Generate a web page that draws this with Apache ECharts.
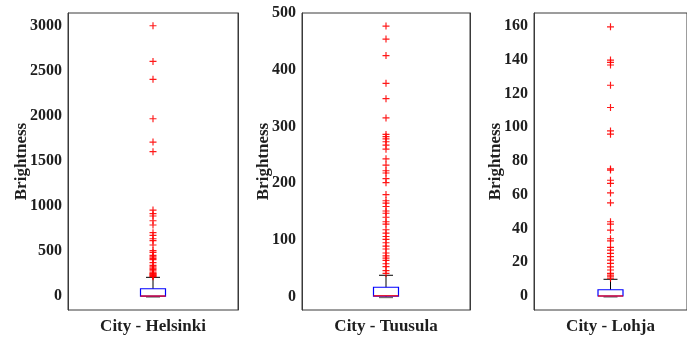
<!DOCTYPE html>
<html>
<head>
<meta charset="utf-8">
<script src="https://cdn.jsdelivr.net/npm/echarts@6/dist/echarts.min.js"></script>
<style>
  html, body { margin: 0; padding: 0; background: #fff; }
  #chart { width: 687px; height: 340px; }
</style>
</head>
<body>
<div id="chart"></div>
<script>
// city labels under each panel
const cities = ['City - Helsinki', 'City - Tuusula', 'City - Lohja'];

// box stats: [lower whisker, q1, median, q3, upper whisker]
const helsinkiBox = [0, 0, 0, 81, 208];
const tuusulaBox = [0, 1, 1.5, 16.6, 37.7];
const lohjaBox = [0, 0, 0, 3.7, 9.9];

// outliers
const helsinkiOut = [3003, 2607, 2408, 1970, 1711, 1604, 955, 915, 889, 837, 789, 704, 674, 637, 615, 567,
  504, 485, 452, 435, 419, 404, 372, 341, 326, 310, 296, 280, 259, 252, 244, 237, 230, 222, 215];
const tuusulaOut = [477, 454, 425, 376, 349, 315, 286, 282, 278, 273, 267, 260, 243, 232, 222, 218, 208, 201,
  180, 169, 165, 159, 151, 147, 140, 132, 128, 118, 112, 106, 101, 95, 89, 84, 77, 72, 68, 64, 58, 53, 46, 41];
const lohjaOut = [159.5, 139.8, 138.4, 136.9, 124.9, 111.7, 97.8, 95.9, 75.3, 74.6, 68.6, 66.7, 61.1, 55.2,
  44, 42.6, 39, 33.9, 32.7, 28.8, 27.2, 25.3, 23.3, 21.3, 19.3, 17.3, 15.4, 13.4, 12.4, 11.4, 10.5];

// y tick labels
const helsinkiTicks = [0, 500, 1000, 1500, 2000, 2500, 3000];
const tuusulaTicks = [0, 100, 200, 300, 400, 500];
const lohjaTicks = [0, 20, 40, 60, 80, 100, 120, 140, 160];

const boxes = [helsinkiBox, tuusulaBox, lohjaBox];
const outliers = [helsinkiOut, tuusulaOut, lohjaOut];
const ticks = [helsinkiTicks, tuusulaTicks, lohjaTicks];
const ranges = [[-155, 3145], [-23.5, 500], [-8.3, 167.7]];
const grids = [
  { left: 68, right: 449, top: 13, bottom: 30 },
  { left: 302, right: 217, top: 13, bottom: 30 },
  { left: 534, right: -9, top: 13, bottom: 30 }
];
const nameGaps = [38, 30, 30];

const font = 'Liberation Serif';
const ink = '#1e1e1e';
const lineCol = '#3a3a3a';
const plus = 'path://M2.5,0H3.5V6H2.5Z M0,2.5H6V3.5H0Z';

const chart = echarts.init(document.getElementById('chart'));

const xAxis = [], yAxis = [], series = [];
cities.forEach((city, i) => {
  xAxis.push({
    type: 'category', gridIndex: i, data: [city],
    name: city, nameLocation: 'middle', nameGap: 8, nameMoveOverlap: false,
    nameTextStyle: { fontFamily: font, fontWeight: 'bold', fontSize: 17, color: ink },
    axisLine: { show: false },
    axisTick: { show: false }, axisLabel: { show: false }
  });
  yAxis.push({
    type: 'value', gridIndex: i, min: ranges[i][0], max: ranges[i][1],
    name: 'Brightness', nameLocation: 'middle', nameGap: nameGaps[i], nameRotate: 90,
    nameMoveOverlap: false,
    nameTextStyle: { fontFamily: font, fontWeight: 'bold', fontSize: 17, color: ink },
    axisLine: { show: true, lineStyle: { color: lineCol } },
    axisTick: { inside: true, length: 4, customValues: ticks[i], lineStyle: { color: lineCol } },
    axisLabel: { customValues: ticks[i], margin: 6, formatter: v => String(v),
      fontFamily: font, fontWeight: 'bold', fontSize: 16, color: ink },
    splitLine: { show: false }
  });
  yAxis.push({
    type: 'value', gridIndex: i, position: 'right', min: ranges[i][0], max: ranges[i][1],
    axisLine: { show: true, lineStyle: { color: lineCol } },
    axisTick: { inside: true, length: 4, customValues: ticks[i], lineStyle: { color: lineCol } },
    axisLabel: { show: false }, splitLine: { show: false }
  });
  series.push({
    type: 'custom', xAxisIndex: i, yAxisIndex: i * 2,
    data: [[0].concat(boxes[i])],
    encode: { x: 0, y: [1, 2, 3, 4, 5] },
    renderItem: function (params, api) {
      const c = api.value(0);
      const lo = api.coord([c, api.value(1)]);
      const q1 = api.coord([c, api.value(2)]);
      const md = api.coord([c, api.value(3)]);
      const q3 = api.coord([c, api.value(4)]);
      const hi = api.coord([c, api.value(5)]);
      const x = lo[0], hw = 12.5, cw = 7;
      const black = { stroke: '#000', lineWidth: 1 };
      return {
        type: 'group',
        children: [
          { type: 'line', shape: { x1: x, y1: q3[1], x2: x, y2: hi[1] }, style: black },
          { type: 'line', shape: { x1: x, y1: q1[1], x2: x, y2: lo[1] }, style: black },
          { type: 'line', shape: { x1: x - cw, y1: hi[1], x2: x + cw, y2: hi[1] }, style: black },
          { type: 'line', shape: { x1: x - cw, y1: lo[1] + 1, x2: x + cw, y2: lo[1] + 1 }, style: { stroke: '#555', lineWidth: 1 } },
          { type: 'rect', shape: { x: x - hw, y: q3[1], width: hw * 2, height: q1[1] - q3[1] },
            style: { fill: 'none', stroke: '#0000ff', lineWidth: 1.2 } },
          { type: 'line', shape: { x1: x - hw, y1: md[1], x2: x + hw, y2: md[1] },
            style: { stroke: '#ff0000', lineWidth: 1.2 } }
        ]
      };
    }
  });
  series.push({
    type: 'scatter', xAxisIndex: i, yAxisIndex: i * 2,
    symbol: plus, symbolSize: 7,
    itemStyle: { color: '#ff0000', opacity: 0.9 },
    data: outliers[i].map(v => [0, v]),
    animation: false
  });
});

chart.setOption({
  animation: false,
  grid: grids.map(g => Object.assign({ show: true, borderColor: lineCol, borderWidth: 1 }, g)),
  xAxis: xAxis,
  yAxis: yAxis,
  series: series
});
</script>
</body>
</html>
